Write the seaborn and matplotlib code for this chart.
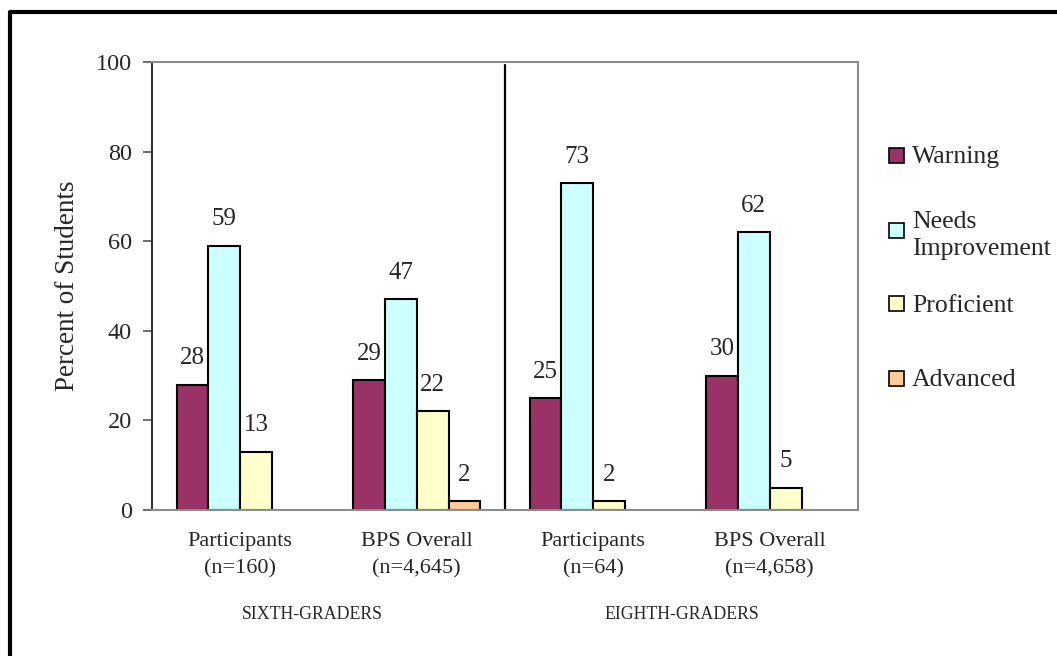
import numpy as np
import pandas as pd
import matplotlib
matplotlib.use("Agg")
import matplotlib.pyplot as plt
from matplotlib.lines import Line2D
from matplotlib.patches import Rectangle
import matplotlib.transforms as mtransforms
import seaborn as sb

# data
categories = ["Participants\n(n=160)", "BPS Overall\n(n=4,645)",
              "Participants\n(n=64)", "BPS Overall\n(n=4,658)"]
levels = ["Warning", "Needs Improvement", "Proficient", "Advanced"]
legend_labels = ["Warning", "Needs\nImprovement", "Proficient", "Advanced"]
warning = [28, 29, 25, 30]
needs = [59, 47, 73, 62]
proficient = [13, 22, 2, 5]
advanced = [np.nan, 2, np.nan, np.nan]   # no bar drawn where missing
groups = ["SIXTH-GRADERS", "EIGHTH-GRADERS"]
colors = ["#993366", "#CCFFFF", "#FFFFCC", "#FFCC99"]

# long table for seaborn
df = pd.DataFrame({
    "cat": categories * 4,
    "level": np.repeat(levels, 4),
    "pct": warning + needs + proficient + advanced,
})

sb.set_style("white")
plt.rcParams["font.family"] = ["Liberation Serif", "DejaVu Serif"]

fig = plt.figure(figsize=(10.57, 6.56), dpi=100)
ax = fig.add_axes([152/1057, 1 - 510/656, 706/1057, 448/656])

sb.barplot(data=df, x="cat", y="pct", hue="level", order=categories,
           hue_order=levels, palette=colors, width=0.72, dodge=True,
           edgecolor="black", linewidth=1.5, saturation=1, legend=False, ax=ax)

# value labels above the bars
for cont in ax.containers:
    labs = ["" if np.isnan(b.get_height()) else "%d" % round(b.get_height()) for b in cont]
    ax.bar_label(cont, labels=labs, padding=11, fontsize=18)

ax.set_ylim(0, 100)
ax.set_xlim(-0.5, 3.5)
ax.set_yticks(range(0, 101, 20))
ax.set_xlabel("")
ax.set_ylabel("Percent of Students", fontsize=19.5, labelpad=11)
ax.tick_params(axis="y", left=True, length=6.5, width=1.2, color="#555555",
               labelsize=17.5, pad=8)
ax.tick_params(axis="x", length=0, labelsize=16, pad=16)
for lab in ax.get_xticklabels():
    lab.set_linespacing(1.55)

for s in ["top", "right", "bottom"]:
    ax.spines[s].set_visible(True)
    ax.spines[s].set_color("#8c8c8c")
    ax.spines[s].set_linewidth(1.5)
ax.spines["left"].set_color("#333333")
ax.spines["left"].set_linewidth(1.5)

# divider between grades
ax.axvline(1.5, color="black", lw=1.6, ymax=0.993)

# grade labels under each pair
trans = mtransforms.blended_transform_factory(ax.transData, ax.transAxes)
for i, g in enumerate(groups):
    ax.text(2 * i + 0.5 - (0.09 if i == 0 else 0), -0.234, g, transform=trans,
            ha="center", va="center", fontsize=12.8)

# legend drawn as boxes + text
ys = [155, 230, 303, 378]
for lab, col, y in zip(legend_labels, colors, ys):
    fig.add_artist(Rectangle((889/1057, 1 - (y + 7.5)/656), 15/1057, 15/656,
                             transform=fig.transFigure, facecolor=col,
                             edgecolor="black", lw=1.2))
    fig.text(912/1057, 1 - y/656, lab, fontsize=18.5, va="center_baseline",
             ha="left", linespacing=1.35)

# outer frame (only left and top edges visible)
fig.add_artist(Line2D([10/1057, 10/1057, 1.0], [0, 1 - 11.5/656, 1 - 11.5/656],
                      transform=fig.transFigure, color="black", lw=3))

fig.savefig("out.png", dpi=100)
